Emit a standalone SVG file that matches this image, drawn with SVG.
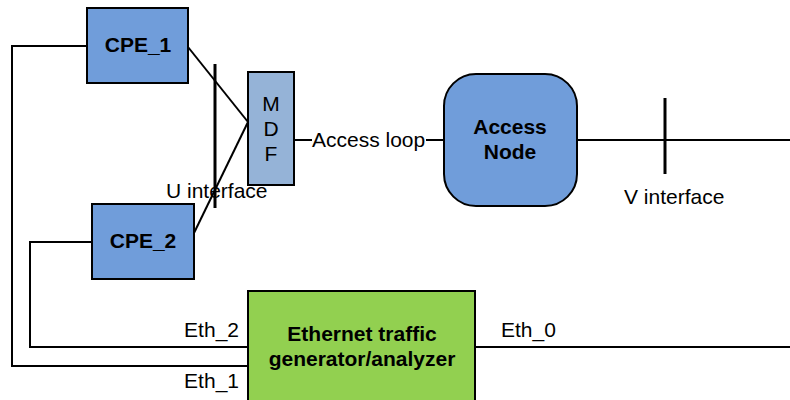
<svg xmlns="http://www.w3.org/2000/svg" width="790" height="400" viewBox="0 0 790 400">
<style>
.box{stroke:#000;stroke-width:2}
.blue{fill:#709DDA}
.mdf{fill:#95B3D7}
.green{fill:#92D050}
.ln{stroke:#000;stroke-width:2;fill:none}
.bar{stroke:#000;stroke-width:3;fill:none}
text{font-family:"Liberation Sans",Arial,sans-serif;font-size:21px;fill:#000}
.b{font-weight:bold;text-anchor:middle}
</style>
<rect width="790" height="400" fill="#fff"/>
<g id="connectors">
<polyline class="ln" points="87,46 12,46 12,366 248,366"/>
<polyline class="ln" points="92,242 30,242 30,347 248,347"/>
<line class="ln" x1="475" y1="347" x2="790" y2="347"/>
<line class="ln" x1="188" y1="47" x2="248" y2="122"/>
<line class="ln" x1="248" y1="122" x2="194" y2="233"/>
<line class="ln" x1="294" y1="140" x2="312" y2="140"/>
<line class="ln" x1="426" y1="140" x2="444" y2="140"/>
<line class="ln" x1="577" y1="140" x2="790" y2="140"/>
<line class="bar" x1="215" y1="64" x2="215" y2="208"/>
<line class="bar" x1="665" y1="98" x2="665" y2="174"/>
</g>
<g id="labels">
<text x="166" y="198">U interface</text>
<text x="312" y="147">Access loop</text>
<text x="624" y="204">V interface</text>
<text x="239" y="337" text-anchor="end">Eth_2</text>
<text x="239" y="388" text-anchor="end">Eth_1</text>
<text x="501" y="337">Eth_0</text>
</g>
<g id="cpe1">
<rect class="box blue" x="87" y="8" width="101" height="75"/>
<text class="b" x="138" y="52">CPE_1</text>
</g>
<g id="cpe2">
<rect class="box blue" x="92" y="204" width="102" height="75"/>
<text class="b" x="143" y="248">CPE_2</text>
</g>
<g id="mdf">
<rect class="box mdf" x="248" y="72" width="46" height="113"/>
<text x="271" y="111" text-anchor="middle">M</text>
<text x="271" y="136" text-anchor="middle">D</text>
<text x="271" y="161" text-anchor="middle">F</text>
</g>
<g id="access-node">
<rect class="box blue" x="444" y="74" width="133" height="132" rx="32" ry="32"/>
<text class="b" x="510" y="134">Access</text>
<text class="b" x="510" y="159">Node</text>
</g>
<g id="traffic-generator">
<rect class="box green" x="248" y="291" width="227" height="120"/>
<text class="b" x="362" y="341">Ethernet traffic</text>
<text class="b" x="362" y="366">generator/analyzer</text>
</g>
</svg>
